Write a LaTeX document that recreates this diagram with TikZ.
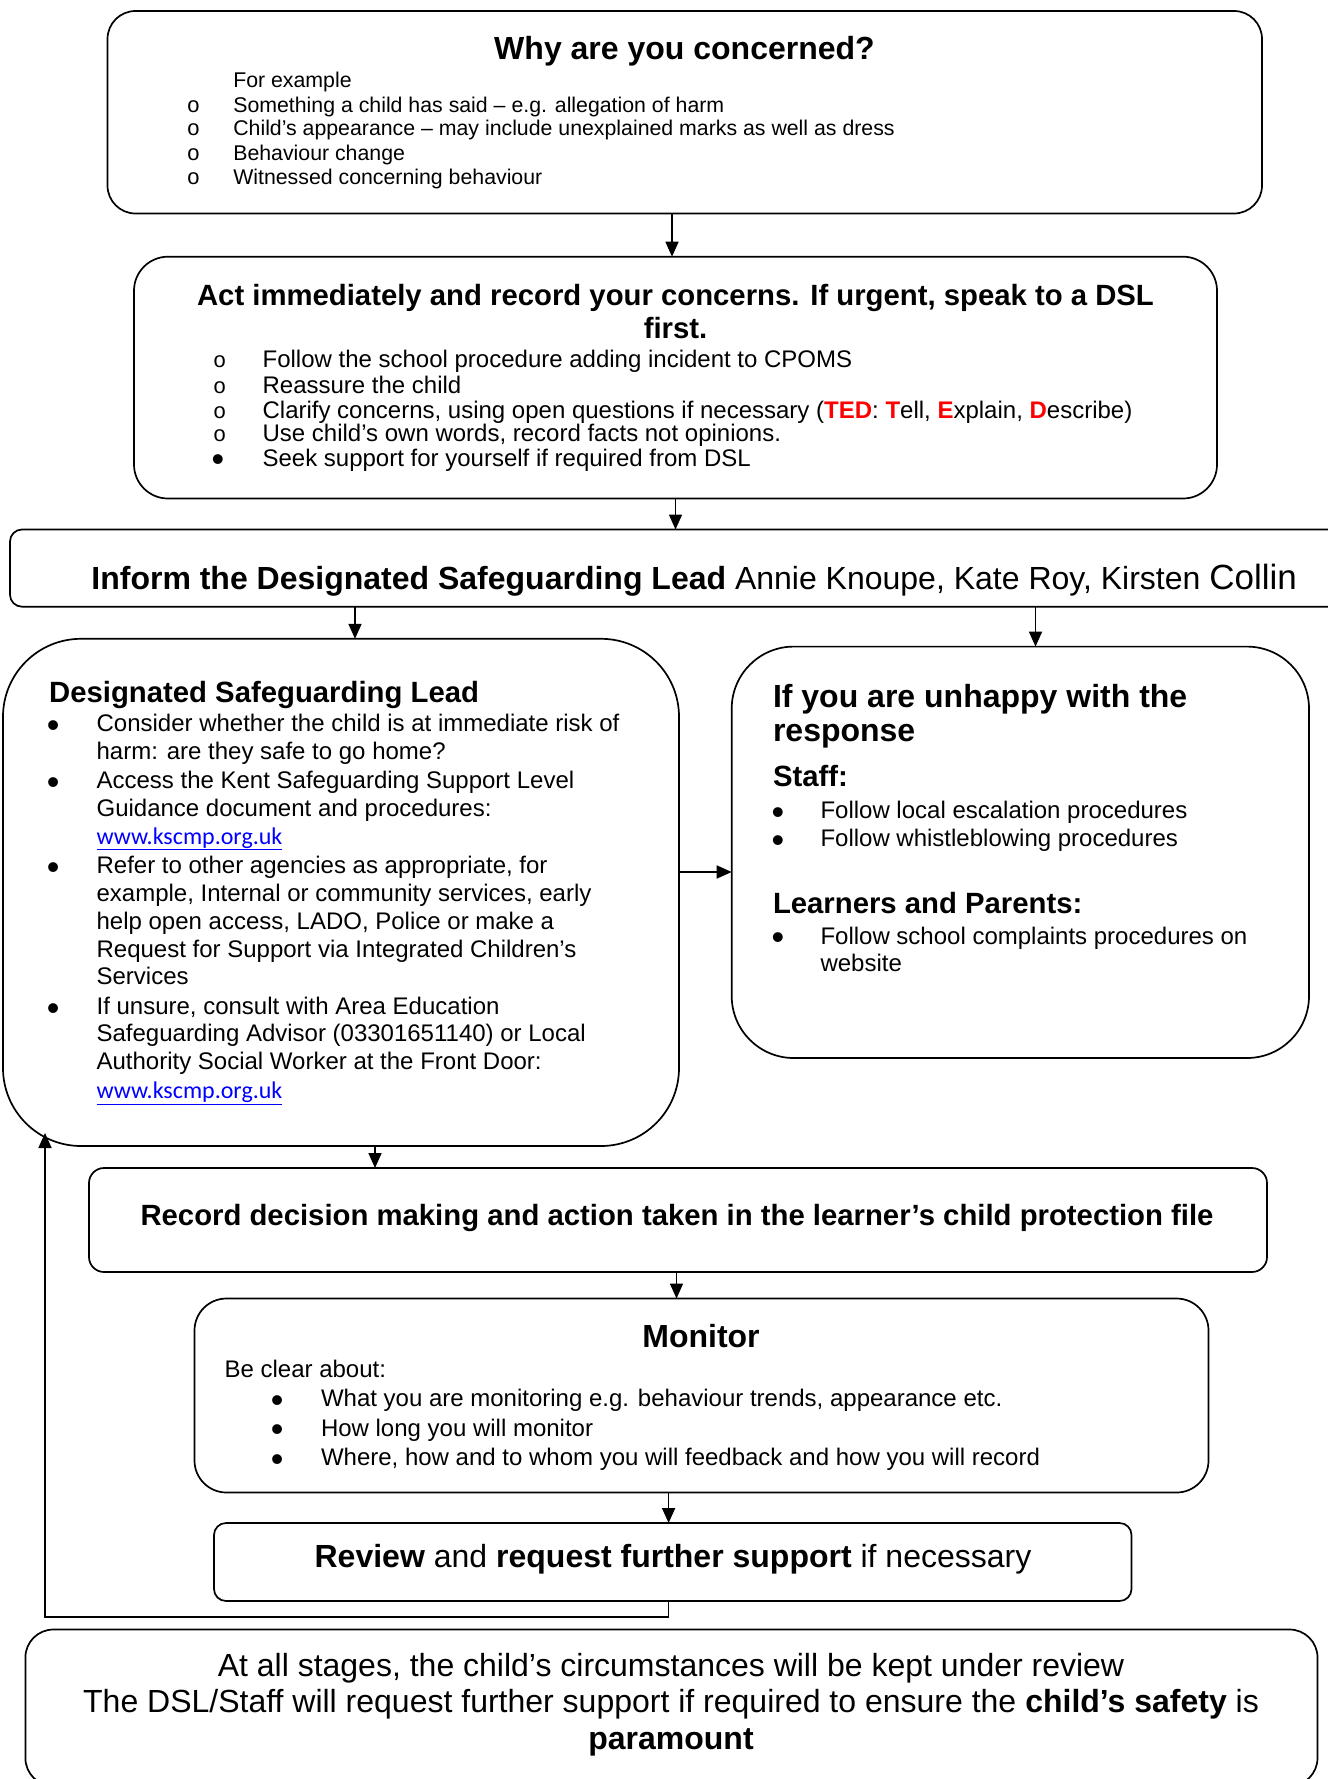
\documentclass[tikz,border=0pt]{standalone}
\usepackage{fontspec}
\setmainfont{Liberation Sans}
\newfontfamily\linkfont{Carlito}
\newfontfamily\bulfont{Liberation Mono}
\usetikzlibrary{arrows.meta}
\definecolor{tedred}{RGB}{255,0,0}
\definecolor{linkblue}{RGB}{0,0,255}
\newcommand{\tedr}[1]{\textcolor{tedred}{\textbf{#1}}}
\newcommand{\weblink}{{\linkfont\fontsize{24}{28}\selectfont\textcolor{linkblue}{\underline{www.kscmp.org.uk}}}}
\tikzset{
  box/.style={draw, line width=1.7pt, rounded corners=#1, inner sep=0pt, outer sep=0pt},
  arr/.style={line width=1.7pt, -{Triangle[length=15pt,width=13pt]}},
  lt/.style={inner sep=0pt, outer sep=0pt, anchor=base west},
  ct/.style={inner sep=0pt, outer sep=0pt, anchor=base},
  sA/.style={font=\fontsize{21.3}{25}\selectfont},
  sB/.style={font=\fontsize{24}{28}\selectfont},
  sH/.style={font=\fontsize{29.3}{34}\selectfont\bfseries},
  sT/.style={font=\fontsize{32}{38}\selectfont\bfseries},
  sL/.style={font=\fontsize{32}{38}\selectfont},
  hb/.style={font=\bulfont\fontsize{22}{25}\selectfont, inner sep=0pt, outer sep=0pt, anchor=base},
  fb/.style={font=\fontsize{36}{40}\selectfont, text height=16pt, text depth=0pt, inner sep=0pt, outer sep=0pt, anchor=base, yshift=-5.8pt},
}
\begin{document}
\begin{tikzpicture}[x=1pt,y=-1pt]
\useasboundingbox (0,0) rectangle (1327,1779);
\fill[white] (0,0) rectangle (1327,1779);

% ---------- boxes ----------
\node[box=28pt, minimum width=1154.5pt, minimum height=202.5pt] (b1) at (684.75,112.25) {};
\node[box=34pt, minimum width=1083pt, minimum height=241.8pt] (b2) at (675.5,377.6) {};
\node[box=12pt, minimum width=1330pt, minimum height=77.2pt] (b3) at (675,568.1) {};
\node[box=78pt, minimum width=676pt, minimum height=507.2pt] (b4) at (341,892.4) {};
\node[box=62pt, minimum width=577.3pt, minimum height=411.4pt] (b5) at (1020.35,852.3) {};
\node[box=15pt, minimum width=1178pt, minimum height=104pt] (b6) at (678,1220) {};
\node[box=32pt, minimum width=1014pt, minimum height=194pt] (b7) at (701.5,1395.5) {};
\node[box=12pt, minimum width=917.5pt, minimum height=78pt] (b8) at (672.75,1562) {};
\node[box=28pt, minimum width=1292.1pt, minimum height=156.5pt] (b9) at (671.45,1707.75) {};

% ---------- connectors ----------
\coordinate (ax1) at (672,0);
\coordinate (ax2) at (675.5,0);
\coordinate (ax3) at (355,0);
\coordinate (ax4) at (1035.5,0);
\coordinate (ay5) at (0,872);
\coordinate (ax6) at (375,0);
\coordinate (ax7) at (676.5,0);
\coordinate (ax8) at (668.6,0);
\coordinate (fbc) at (45,1617.3);
\coordinate (fbe) at (45,1133);
\draw[arr] (b1.south -| ax1) -- (b2.north -| ax1);
\draw[arr] (b2.south -| ax2) -- (b3.north -| ax2);
\draw[arr] (b3.south -| ax3) -- (b4.north -| ax3);
\draw[arr] (b3.south -| ax4) -- (b5.north -| ax4);
\draw[arr] (b4.east |- ay5) -- (b5.west |- ay5);
\draw[arr] (b4.south -| ax6) -- (b6.north -| ax6);
\draw[arr] (b6.south -| ax7) -- (b7.north -| ax7);
\draw[arr] (b7.south -| ax8) -- (b8.north -| ax8);
\draw[arr] (b8.south -| ax8) |- (fbc) -- (fbe);

% ---------- box 1 ----------
\node[ct, sT] (t1h) at (684.5,59.5) {Why are you concerned?};
\node[lt, sA] (t1a) at (233.3,88) {For example};
\node[hb] (o1b) at (193.5,112.2) {o};
\node[lt, sA] (t1b) at (233.3,112.2) {Something a child has said – e.g. allegation of harm};
\node[hb] (o1c) at (193.5,136) {o};
\node[lt, sA] (t1c) at (233.3,136) {Child’s appearance – may include unexplained marks as well as dress};
\node[hb] (o1d) at (193.5,160.8) {o};
\node[lt, sA] (t1d) at (233.3,160.8) {Behaviour change};
\node[hb] (o1e) at (193.5,185) {o};
\node[lt, sA] (t1e) at (233.3,185) {Witnessed concerning behaviour};

% ---------- box 2 ----------
\node[ct, sH] (t2h1) at (675.5,305.5) {Act immediately and record your concerns. If urgent, speak to a DSL};
\node[ct, sH] (t2h2) at (675.5,338) {first.};
\node[hb] (o2a) at (219.7,367.5) {o};
\node[lt, sB] (t2a) at (262.6,367.5) {Follow the school procedure adding incident to CPOMS};
\node[hb] (o2b) at (219.7,393) {o};
\node[lt, sB] (t2b) at (262.6,393) {Reassure the child};
\node[hb] (o2c) at (219.7,418) {o};
\node[lt, sB] (t2c) at (262.6,418) {Clarify concerns, using open questions if necessary (\tedr{TED}: \tedr{T}ell, \tedr{E}xplain, \tedr{D}escribe)};
\node[hb] (o2d) at (219.7,441.5) {o};
\node[lt, sB] (t2d) at (262.6,441.5) {Use child’s own words, record facts not opinions.};
\node[fb] (o2e) at (218,466) {•};
\node[lt, sB] (t2e) at (262.6,466) {Seek support for yourself if required from DSL};

% ---------- box 3 ----------
\node[lt, sL] (t3) at (91.4,589) {\textbf{Inform the Designated Safeguarding Lead} Annie Knoupe, Kate Roy, Kirsten {\fontsize{35}{40}\selectfont Collin}};

% ---------- box 4 ----------
\node[lt, sH] (t4h) at (49.2,702.2) {Designated Safeguarding Lead};
\node[fb] (u4a) at (53.3,731.7) {•};
\node[lt, sB] (t4a) at (96.6,731.7) {Consider whether the child is at immediate risk of};
\node[lt, sB] (t4b) at (96.6,759.3) {harm: are they safe to go home?};
\node[fb] (u4c) at (53.3,788.3) {•};
\node[lt, sB] (t4c) at (96.6,788.3) {Access the Kent Safeguarding Support Level};
\node[lt, sB] (t4d) at (96.6,816) {Guidance document and procedures:};
\node[lt] (t4e) at (96.6,844) {\weblink};
\node[fb] (u4f) at (53.3,873.3) {•};
\node[lt, sB] (t4f) at (96.6,873.3) {Refer to other agencies as appropriate, for};
\node[lt, sB] (t4g) at (96.6,901.3) {example, Internal or community services, early};
\node[lt, sB] (t4h2) at (96.6,929.3) {help open access, LADO, Police or make a};
\node[lt, sB] (t4i) at (96.6,957.3) {Request for Support via Integrated Children’s};
\node[lt, sB] (t4j) at (96.6,984.3) {Services};
\node[fb] (u4k) at (53.3,1014.3) {•};
\node[lt, sB] (t4k) at (96.6,1014.3) {If unsure, consult with Area Education};
\node[lt, sB] (t4l) at (96.6,1041.7) {Safeguarding Advisor (03301651140) or Local};
\node[lt, sB] (t4m) at (96.6,1069) {Authority Social Worker at the Front Door:};
\node[lt] (t4n) at (96.6,1098.3) {\weblink};

% ---------- box 5 ----------
\node[lt, sT] (t5h1) at (773,707.3) {If you are unhappy with the};
\node[lt, sT] (t5h2) at (773,741.8) {response};
\node[lt, sH] (t5s) at (773,786.5) {Staff:};
\node[fb] (u5a) at (778,818.2) {•};
\node[lt, sB] (t5a) at (820.5,818.2) {Follow local escalation procedures};
\node[fb] (u5b) at (778,846.8) {•};
\node[lt, sB] (t5b) at (820.5,846.8) {Follow whistleblowing procedures};
\node[lt, sH] (t5p) at (773,913.2) {Learners and Parents:};
\node[fb] (u5c) at (778,944) {•};
\node[lt, sB] (t5c) at (820.5,944) {Follow school complaints procedures on};
\node[lt, sB] (t5d) at (820.5,971.3) {website};

% ---------- box 6 ----------
\node[ct, sH] (t6) at (677,1225.4) {Record decision making and action taken in the learner’s child protection file};

% ---------- box 7 ----------
\node[ct, sT] (t7h) at (701,1347.4) {Monitor};
\node[lt, sB] (t7a) at (224.6,1377) {Be clear about:};
\node[fb] (u7b) at (277.2,1406.5) {•};
\node[lt, sB] (t7b) at (321,1406.5) {What you are monitoring e.g. behaviour trends, appearance etc.};
\node[fb] (u7c) at (277.2,1436) {•};
\node[lt, sB] (t7c) at (321,1436) {How long you will monitor};
\node[fb] (u7d) at (277.2,1465.5) {•};
\node[lt, sB] (t7d) at (321,1465.5) {Where, how and to whom you will feedback and how you will record};

% ---------- box 8 ----------
\node[ct, sL] (t8) at (673,1567) {\textbf{Review} and \textbf{request further support} if necessary};

% ---------- box 9 ----------
\node[ct, sL] (t9a) at (671,1676.3) {At all stages, the child’s circumstances will be kept under review};
\node[ct, sL] (t9b) at (671,1712.8) {The DSL/Staff will request further support if required to ensure the \textbf{child’s safety} is};
\node[ct, sL] (t9c) at (671,1749.7) {\textbf{paramount}};
\end{tikzpicture}
\end{document}
